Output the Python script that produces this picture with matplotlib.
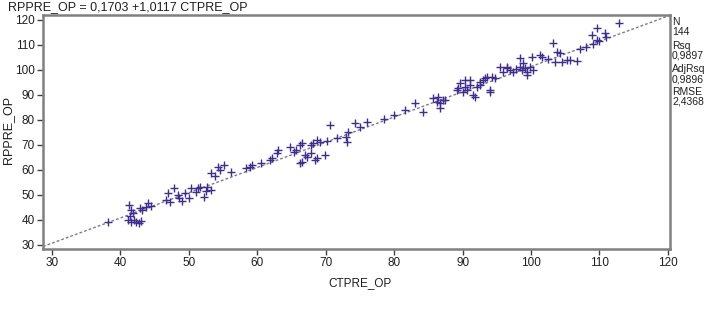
import matplotlib
matplotlib.use("Agg")
import matplotlib.pyplot as plt
import numpy as np

plt.rcParams['font.family'] = ['Liberation Sans Narrow', 'Liberation Sans', 'DejaVu Sans']

# Data (CTPRE_OP, RPPRE_OP)
ctpre_op = [
    38.2, 41.1, 41.5, 42.0, 42.3, 42.7, 43.0, 41.2, 41.5, 41.8, 41.4, 43.2, 42.9, 43.7, 44.1, 44.5,
    46.6, 46.9, 47.8, 48.4, 48.5, 49.5, 50.0, 50.3, 51.0, 51.3, 51.7, 52.2, 52.5, 52.7, 53.2, 49.0, 47.2,
    53.2, 53.8, 54.2, 54.5, 55.1, 56.1, 58.3, 59.3, 59.0, 60.5, 61.9,
    62.2, 62.9, 63.1, 64.8, 65.3, 65.6, 66.3, 66.6, 66.6, 66.3, 67.0, 67.3, 67.8, 67.8, 68.2, 68.8,
    68.5, 69.2, 69.9, 68.7, 70.2, 71.7, 72.9, 73.1, 73.3, 70.7,
    74.3, 76.1, 75.0, 78.5, 80.0, 81.6, 83.1, 84.2, 85.7, 86.3, 86.7, 86.7, 87.1, 86.4, 87.4,
    89.2, 89.3, 89.6, 90.1, 90.3, 90.3, 90.6, 91.1, 91.1, 91.5, 91.8, 92.1, 92.5, 92.5, 93.0, 93.3,
    93.6, 94.0, 94.0, 94.3, 94.7, 95.5, 95.9, 96.5, 96.5, 96.9, 97.3, 97.8, 98.4, 98.4, 98.7, 98.8,
    99.1, 99.4, 99.4, 99.8, 100.1, 100.3,
    101.3, 101.6, 102.5, 103.2, 103.5, 103.8, 104.2, 104.5, 105.2, 105.7, 106.7, 107.1, 108.1, 108.9,
    109.0, 109.6, 109.7, 110.0, 110.8, 111.0, 112.9,
]
rppre_op = [
    39.1, 39.8, 39.1, 40.0, 39.2, 38.6, 39.5, 45.9, 43.9, 42.5, 41.5, 44.0, 44.5, 45.1, 46.7, 45.5,
    47.9, 50.7, 52.7, 49.9, 48.7, 50.5, 48.5, 52.7, 51.0, 52.7, 53.1, 49.1, 51.5, 53.1, 52.0, 47.5, 47.0,
    58.7, 57.5, 61.1, 60.0, 61.9, 59.1, 60.7, 61.9, 61.0, 62.5, 63.9,
    64.7, 66.7, 68.0, 69.2, 67.1, 68.0, 70.0, 70.8, 63.1, 62.7, 66.0, 65.1, 66.7, 70.0, 70.8, 64.7,
    63.9, 71.2, 65.9, 71.8, 71.5, 72.8, 73.2, 71.2, 75.2, 78.0,
    78.8, 79.2, 77.0, 80.5, 82.0, 84.0, 86.8, 83.2, 88.8, 87.2, 86.8, 84.8, 88.0, 89.2, 88.0,
    92.0, 92.9, 94.9, 91.3, 93.3, 96.1, 92.1, 96.1, 94.1, 90.0, 89.2, 93.3, 94.1, 95.3, 96.1, 96.9,
    97.3, 92.1, 91.3, 97.3, 96.9, 101.3, 99.3, 100.9, 101.3, 100.1, 99.3, 100.5, 101.3, 104.9, 100.1, 102.9,
    100.9, 99.3, 98.1, 101.3, 105.3, 100.1,
    106.1, 105.3, 104.5, 110.9, 103.3, 107.3, 106.9, 103.3, 104.1, 104.1, 103.5, 108.5, 109.3, 114.1,
    110.5, 112.1, 116.9, 111.5, 114.9, 113.0, 118.9,
]
intercept = 0.1703
slope = 1.0117
x_ticks = [30, 40, 50, 60, 70, 80, 90, 100, 110, 120]
y_ticks = [30, 40, 50, 60, 70, 80, 90, 100, 110, 120]
stats_labels = ["N", "144", "Rsq", "0,9897", "AdjRsq", "0,9896", "RMSE", "2,4368"]
title_text = "RPPRE_OP = 0,1703 +1,0117 CTPRE_OP"

W, H = 707, 314
fig = plt.figure(figsize=(W / 100, H / 100), dpi=100)
ax = fig.add_axes([43 / W, 1 - 249 / H, (670 - 43) / W, (249 - 15) / H])

xlim = (28.7, 120.3)
ylim = (28.2, 122.0)
ax.set_xlim(*xlim)
ax.set_ylim(*ylim)

xl = np.array(xlim)
ax.plot(xl, intercept + slope * xl, color='#7a7a9a', lw=1.0, ls=(0, (2, 1.5)), zorder=1)
ax.scatter(ctpre_op, rppre_op, marker='+', s=26, color='#3f2d8f', linewidths=1.0, zorder=2)

ax.set_xticks(x_ticks)
ax.set_yticks(y_ticks)
ax.tick_params(direction='out', length=4, width=1, colors='#404040', labelsize=8.5, pad=2)
for lab in ax.get_xticklabels() + ax.get_yticklabels():
    lab.set_color('#202020')
for s in ax.spines.values():
    s.set_color('#808080')
    s.set_linewidth(1.8)

fig.text(8 / W, 1 - 1 / H, title_text, ha='left', va='top', fontsize=9, color='#202020')
fig.text(8 / W, 1 - 130 / H, "RPPRE_OP", rotation=90, ha='center', va='center', fontsize=9, color='#202020')
fig.text(360 / W, 1 - 283 / H, "CTPRE_OP", ha='center', va='center', fontsize=8.5, color='#202020')

ys = [22, 32, 46, 56, 69, 79, 92, 102]
for t, yy in zip(stats_labels, ys):
    fig.text(672 / W, 1 - yy / H, t, ha='left', va='center', fontsize=7.5, color='#202020')

fig.savefig("out.png", dpi=100)
